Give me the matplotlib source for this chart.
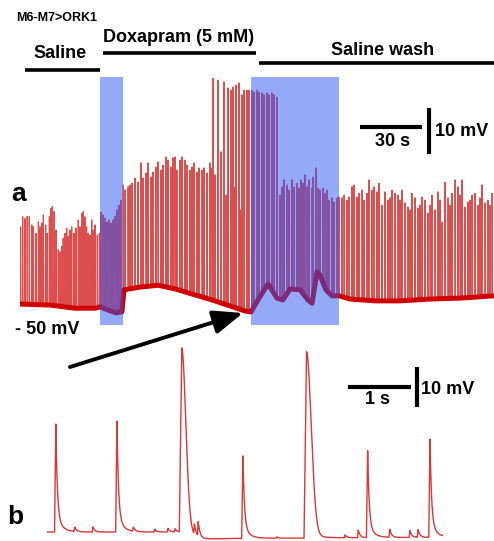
import numpy as np
import matplotlib
matplotlib.use("Agg")
import matplotlib.pyplot as plt
from matplotlib.patches import Rectangle, FancyArrowPatch
from matplotlib.lines import Line2D

plt.rcParams['font.family'] = ['Liberation Sans', 'DejaVu Sans']

# ---------------- panel a data (time in s, membrane potential in mV) ----------------
base_t = [0.0, 14.5, 26.6, 36.3, 38.7, 42.6, 46.4, 49.3, 50.3, 58.1, 66.8, 75.0, 84.7, 92.9,
          101.6, 108.9, 111.8, 115.1, 120.0, 124.3, 127.2, 130.6, 135.5, 139.3, 141.3, 143.7,
          145.1, 148.0, 150.9, 154.3, 159.7, 171.8, 183.8, 198.4, 212.9, 229.3]
base_v = [-49.8, -50.0, -50.7, -50.7, -50.4, -51.1, -51.7, -51.5, -46.7, -46.1, -45.7, -46.5,
          -47.8, -48.9, -50.2, -51.3, -51.5, -48.9, -45.4, -48.5, -48.9, -46.5, -46.7, -48.9,
          -49.6, -42.8, -43.5, -46.7, -48.0, -48.0, -48.7, -49.1, -49.1, -48.7, -48.5, -48.0]

saline_spk_t = [0.3, 1.3, 2.4, 3.5, 4.5, 5.7, 6.5, 7.7, 8.9, 9.7, 10.5, 11.3, 12.4, 13.2, 14.2,
                14.9, 15.6, 16.5, 17.4, 18.5, 19.4, 20.2, 20.9, 21.8, 22.6, 23.4, 24.2, 25.0,
                26.1, 27.1, 28.2, 29.0, 29.8, 30.6, 31.4, 32.2, 33.0, 33.9, 34.7, 35.5, 36.3,
                37.4, 38.4, 39.2, 40.2]
saline_spk_v = [-33.0, -30.8, -31.2, -30.7, -30.8, -32.6, -33.0, -34.4, -31.9, -33.0, -32.2,
                -30.4, -32.6, -34.4, -30.8, -29.0, -28.6, -29.7, -33.7, -38.0, -38.4, -37.3,
                -35.5, -34.4, -33.3, -35.1, -33.7, -33.0, -34.4, -33.3, -31.5, -33.0, -30.1,
                -29.7, -30.8, -33.0, -34.4, -34.8, -31.5, -33.7, -32.6, -34.8, -34.4, -29.8,
                -30.4]

dox_spk_t = [41.1, 42.1, 43.1, 44.0, 45.0, 46.0, 46.9, 47.9, 48.9,
             50.0, 50.8, 52.3, 53.2, 54.2, 55.6, 57.1, 58.5, 59.5, 61.0, 61.9, 63.4, 64.3, 65.8,
             66.8, 68.2, 69.2, 70.6, 71.6, 73.0, 74.0, 75.0, 75.9, 77.4, 78.4, 79.8, 80.8, 82.2,
             83.2, 84.2, 85.6, 86.6, 88.1, 89.0, 90.5, 91.9, 92.9,
             93.4, 94.3, 95.8, 97.2, 98.7, 99.7, 100.6, 102.1, 103.0, 104.0, 104.5, 105.9,
             106.4, 107.4, 108.4, 109.8, 110.8, 112.2, 113.2, 114.7]
dox_spk_v = [-31.1, -32.0, -31.5, -32.2, -31.5, -30.7, -29.3, -28.3, -27.2,
             -23.9, -25.0, -24.3, -23.9, -23.5, -22.4, -23.3, -19.1, -22.4, -21.3, -19.1, -22.2,
             -21.1, -20.0, -18.9, -20.7, -19.6, -17.8, -18.5, -20.0, -18.0, -17.8, -20.7, -18.5,
             -17.8, -18.5, -19.6, -20.7, -20.0, -19.1, -21.1, -20.2, -20.7, -20.2, -21.3, -19.1,
             -20.2,
             -0.7, -21.7, -1.1, -16.7, -1.5, -26.1, -2.8, -3.3, -2.6, -24.3, -2.2, -1.7, -29.3,
             -4.3, -3.3, -3.3, -3.3, -3.3, -3.7, -3.3]

wash_spk_t = [115.6, 117.1, 118.0, 119.5, 120.5, 121.9, 122.9, 124.3,
              125.8, 126.8, 127.7, 129.2, 130.1, 131.6, 132.6, 134.0, 135.0, 135.9, 136.9,
              137.9, 138.9, 139.8, 141.3, 141.8, 143.2, 144.2, 145.1, 146.6, 147.6, 148.5,
              149.5, 150.9, 151.9, 153.4, 154.3,
              155.8, 156.8, 158.2, 159.2, 160.6, 161.6, 163.0, 164.0, 165.5, 166.4, 167.9,
              168.8, 170.3, 171.3, 172.7, 173.7, 175.1, 176.6, 178.0, 179.0, 180.0, 181.4,
              182.9, 183.8, 184.8, 186.3, 187.7, 188.7, 189.6, 191.1, 192.5, 193.5, 194.5,
              195.9, 197.4, 198.4, 199.3, 200.8, 202.2, 203.2, 204.2, 205.6, 207.1, 208.0,
              209.0, 210.5, 211.9, 212.9, 213.8, 215.3, 216.7, 217.7, 218.7, 220.1, 221.6,
              222.5, 223.5, 225.0, 226.4, 227.4, 228.4]
wash_spk_v = [-3.7, -3.9, -4.3, -3.9, -4.3, -3.9, -4.3, -4.8,
              -26.1, -24.3, -22.8, -23.9, -25.0, -22.8, -24.3, -23.5, -24.6, -22.8, -23.5,
              -21.7, -24.3, -22.8, -24.6, -22.2, -20.2, -24.6, -25.0, -24.6, -25.7, -25.0,
              -27.2, -26.7, -27.6, -26.7, -26.5,
              -26.7, -26.1, -27.2, -26.5, -24.3, -23.9, -26.5, -25.7, -25.0, -27.2, -25.7,
              -22.8, -25.0, -24.3, -25.4, -23.5, -28.3, -25.4, -27.2, -26.7, -25.0, -25.7,
              -26.1, -27.2, -25.0, -27.8, -28.7, -29.3, -25.7, -26.7, -28.9, -28.3, -26.5,
              -27.2, -30.0, -28.3, -26.1, -29.3, -25.4, -27.2, -32.0, -23.3, -26.7, -28.3,
              -25.7, -22.8, -24.3, -26.1, -22.8, -28.7, -27.6, -27.2, -26.1, -25.7, -28.3,
              -26.7, -23.9, -27.8, -27.2, -28.3, -25.7]

highlight_start = [38.7, 111.8]   # s
highlight_end = [49.8, 154.3]

# ---------------- panel b data (time in s, mV relative to rest) ----------------
b_base_t = [0.0, 2.10, 2.45, 3.0, 6.29]
b_base_v = [0.0, 0.0, -1.8, -1.6, -1.3]
b_spk_t = [0.14, 1.11, 2.14, 3.11, 4.12, 5.09, 6.08]       # peak times
b_spk_amp = [27.0, 27.7, 46.2, 20.6, 46.6, 21.7, 24.5]
b_spk_broad = [False, False, True, False, True, False, False]
b_spk_width = [0.024, 0.024, 0.09, 0.024, 0.105, 0.024, 0.024]
b_bump_t = [0.44, 0.73, 1.37, 1.71, 1.92, 2.03, 2.34, 2.40, 3.65, 4.73, 4.94, 5.44, 5.76, 5.89]
b_bump_amp = [1.1, 1.3, 1.0, 0.7, 0.9, 0.8, 2.5, 3.5, 0.3, 0.7, 1.9, 2.0, 1.7, 1.9]

W, H = 494, 541
fig = plt.figure(figsize=(W / 100, H / 100), dpi=100)
fx = lambda x: x / W
fy = lambda y: 1 - y / H

# ---------------- panel a ----------------
axa = fig.add_axes([fx(20), fy(330), fx(494) - fx(20), fy(60) - fy(330)])
axa.set_xlim(0, 229.3)
axa.set_ylim(-55.43, 3.26)
axa.axis('off')

bt = np.array(base_t); bv = np.array(base_v)
spk_t = np.array(saline_spk_t + dox_spk_t + wash_spk_t)
spk_v = np.array(saline_spk_v + dox_spk_v + wash_spk_v)
pts = [(t, v) for t, v in zip(bt, bv)]
for t, v in zip(spk_t, spk_v):
    pts.append((t - 0.1, float(np.interp(t - 0.1, bt, bv))))
    pts.append((t, v))
    pts.append((t + 0.15, float(np.interp(t + 0.15, bt, bv))))
pts.sort(key=lambda p: p[0])
tr_t = [p[0] for p in pts]; tr_v = [p[1] for p in pts]
axa.plot(tr_t, tr_v, color='#d83030', lw=0.85, alpha=0.85, zorder=2)
axa.plot(bt, bv, color='#d00000', lw=3.6, zorder=3, solid_joinstyle='round')

for s, e in zip(highlight_start, highlight_end):
    axa.add_patch(Rectangle((s, -54.4), e - s, 53.9, facecolor=(45/255, 85/255, 245/255),
                            alpha=0.5, edgecolor='none', zorder=4))

# scale bars panel a
axa.plot([164.5, 194.5], [-11.3, -11.3], color='k', lw=3, solid_capstyle='butt', clip_on=False)
axa.plot([197.9, 197.9], [-17.2, -7.2], color='k', lw=3, solid_capstyle='butt', clip_on=False)

# ---------------- panel b ----------------
axb = fig.add_axes([fx(47), 0, fx(443) - fx(47), fy(340)])
axb.set_xlim(0, 6.286)
axb.set_ylim(-2.25, 48)
axb.axis('off')

tb = np.arange(0, 6.286, 0.002)
vb = np.interp(tb, b_base_t, b_base_v)
for tp, a, broad, w in zip(b_spk_t, b_spk_amp, b_spk_broad, b_spk_width):
    rise = 0.04 if broad else 0.02
    d = tb - tp
    up = (d >= -rise) & (d < 0)
    vb[up] += a * (d[up] + rise) / rise
    dn = d >= 0
    if broad:
        vb[dn] += a * (0.95 * np.exp(-(d[dn] / w) ** 2) + 0.05 * np.exp(-d[dn] / 0.12))
    else:
        vb[dn] += a * (0.85 * np.exp(-d[dn] / w) + 0.15 * np.exp(-d[dn] / 0.09))
for tp, a in zip(b_bump_t, b_bump_amp):
    d = tb - tp
    up = (d >= -0.012) & (d < 0)
    vb[up] += a * (d[up] + 0.012) / 0.012
    dn = d >= 0
    vb[dn] += a * np.exp(-d[dn] / 0.03)
axb.plot(tb, vb, color='#d83838', lw=1.0, zorder=2)

axb.plot([4.78, 5.78], [36.3, 36.3], color='k', lw=3, solid_capstyle='butt', clip_on=False)
axb.plot([5.87, 5.87], [31.25, 41.25], color='k', lw=3, solid_capstyle='butt', clip_on=False)

# ---------------- annotations ----------------
bold = dict(fontweight='bold', color='k')
fig.text(fx(16), fy(18), 'M6-M7>ORK1', fontsize=9, ha='left', va='center', **bold)
fig.text(fx(33), fy(54), 'Saline', fontsize=13, ha='left', va='center', **bold)
fig.text(fx(103), fy(37), 'Doxapram (5 mM)', fontsize=13, ha='left', va='center', **bold)
fig.text(fx(331), fy(50), 'Saline wash', fontsize=13, ha='left', va='center', **bold)
for x0, x1, y in [(25, 100, 70), (103, 256, 52.7), (259, 494, 63)]:
    fig.add_artist(Line2D([fx(x0), fx(x1)], [fy(y), fy(y)], color='k', lw=2.6,
                          solid_capstyle='butt', transform=fig.transFigure))
fig.text(fx(393), fy(142), '30 s', fontsize=13, ha='center', va='center', **bold)
fig.text(fx(435), fy(131), '10 mV', fontsize=13, ha='left', va='center', **bold)
fig.text(fx(11), fy(194), 'a', fontsize=19, ha='left', va='center', **bold)
fig.text(fx(15), fy(330), '- 50 mV', fontsize=13, ha='left', va='center', **bold)
fig.text(fx(7), fy(517), 'b', fontsize=19, ha='left', va='center', **bold)
fig.text(fx(377), fy(399), '1 s', fontsize=13, ha='center', va='center', **bold)
fig.text(fx(421), fy(390), '10 mV', fontsize=13, ha='left', va='center', **bold)

arr = FancyArrowPatch(posA=(fx(70), fy(367)), posB=(fx(243), fy(313)),
                      transform=fig.transFigure, arrowstyle='-|>,head_length=1.0,head_width=0.4',
                      mutation_scale=18, lw=2.8, color='k', shrinkA=0, shrinkB=0)
fig.add_artist(arr)

fig.savefig('out.png', dpi=100)
